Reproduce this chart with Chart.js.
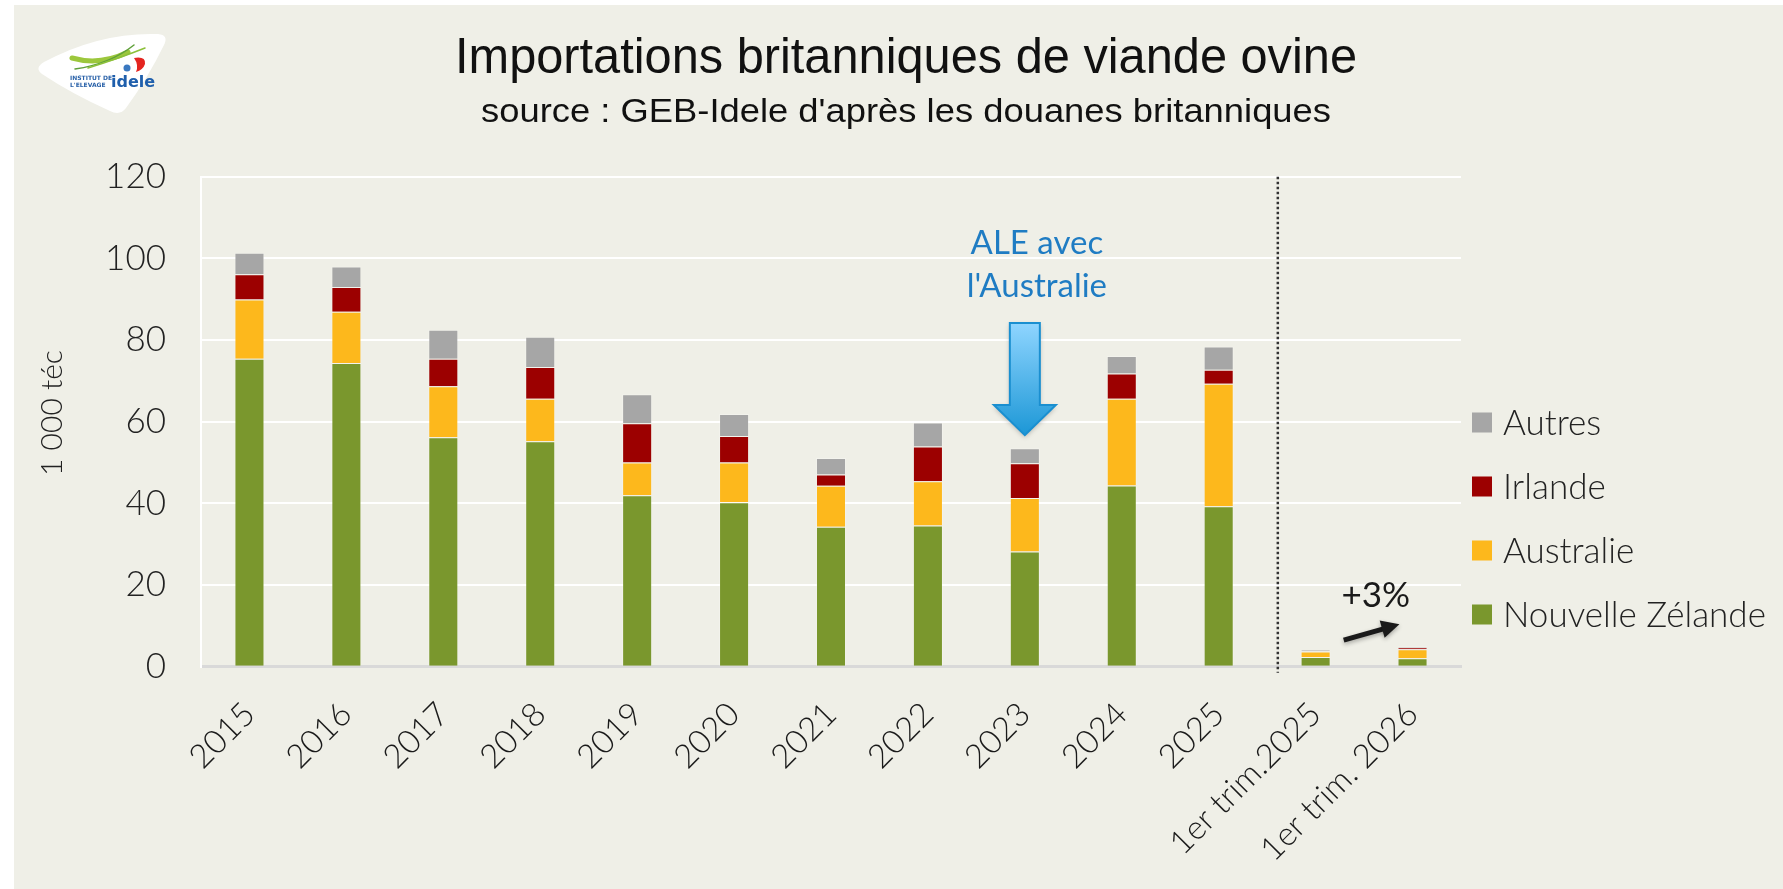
<!DOCTYPE html>
<html>
<head>
<meta charset="utf-8">
<script src="https://cdn.jsdelivr.net/npm/chart.js@4.4.1/dist/chart.umd.min.js"></script>
<style>
  html, body { margin: 0; padding: 0; background: #fff; overflow: hidden; }
  #chart { display: block; }
</style>
</head>
<body>
<canvas id="chart" width="1783" height="889"></canvas>
<script>
// data (1 000 téc)
const categories = ['2015', '2016', '2017', '2018', '2019', '2020', '2021', '2022', '2023', '2024', '2025', '1er trim.2025', '1er trim. 2026'];
const nouvelleZelande = [75.4, 74.4, 56.2, 55.2, 42.0, 40.3, 34.3, 34.6, 28.2, 44.4, 39.3, 2.4, 2.1];
const australie = [14.5, 12.5, 12.5, 10.4, 8.0, 9.7, 10.0, 10.8, 13.1, 21.2, 30.0, 1.3, 2.2];
const irlande = [6.2, 6.1, 6.7, 7.8, 9.6, 6.5, 2.8, 8.5, 8.5, 6.2, 3.4, 0.1, 0.4];
const autres = [5.3, 5.0, 7.1, 7.4, 7.1, 5.4, 4.0, 5.9, 3.7, 4.3, 5.7, 0.3, 0.3];

const seriesNames = ['Nouvelle Zélande', 'Australie', 'Irlande', 'Autres'];
const seriesColors = ['#7a972d', '#fdb81c', '#9c0000', '#a6a6a6'];
const yMin = 0, yMax = 120, yStep = 20;

const titleText = 'Importations britanniques de viande ovine';
const subtitleText = "source : GEB-Idele d'après les douanes britanniques";
const yTitle = '1 000 téc';
const noteLines = ['ALE avec', "l'Australie"];
const noteGrowth = '+3%';

const BG = '#efefe7';
const TXT = '#222';

// helper: draw text squeezed to a target width
function fitText(ctx, text, cx, y, targetW) {
  const w = ctx.measureText(text).width;
  ctx.save();
  ctx.translate(cx, y);
  ctx.scale(targetW / w, 1);
  ctx.textAlign = 'center';
  ctx.fillText(text, 0, 0);
  ctx.restore();
}

const backgroundPlugin = {
  id: 'background',
  beforeDraw(chart) {
    const ctx = chart.ctx;
    ctx.save();
    ctx.fillStyle = '#fff';
    ctx.fillRect(0, 0, chart.width, chart.height);
    ctx.fillStyle = BG;
    ctx.fillRect(14, 5, chart.width - 14, chart.height - 5);
    ctx.restore();
  }
};

function drawLogo(ctx) {
  ctx.save();
  // white rounded triangle
  ctx.fillStyle = '#fff';
  ctx.beginPath();
  ctx.moveTo(44, 62);
  ctx.quadraticCurveTo(100, 32, 158, 34);
  ctx.quadraticCurveTo(169, 35, 164, 45);
  ctx.quadraticCurveTo(148, 78, 126, 108);
  ctx.quadraticCurveTo(120, 116, 110, 111);
  ctx.quadraticCurveTo(72, 94, 42, 74);
  ctx.quadraticCurveTo(34, 68, 44, 62);
  ctx.closePath();
  ctx.fill();
  // green swooshes
  ctx.lineCap = 'round';
  ctx.strokeStyle = '#9cc73c';
  ctx.lineWidth = 5;
  ctx.beginPath();
  ctx.moveTo(72, 58);
  ctx.quadraticCurveTo(100, 66, 128, 52);
  ctx.stroke();
  ctx.strokeStyle = '#5fa03a';
  ctx.lineWidth = 1.5;
  ctx.beginPath();
  ctx.moveTo(75, 69);
  ctx.quadraticCurveTo(110, 64, 134, 45);
  ctx.stroke();
  ctx.strokeStyle = '#8cc03a';
  ctx.beginPath();
  ctx.moveTo(88, 68);
  ctx.quadraticCurveTo(120, 58, 145, 48);
  ctx.stroke();
  // red and blue marks
  ctx.fillStyle = '#e42520';
  ctx.beginPath();
  ctx.moveTo(134, 58);
  ctx.quadraticCurveTo(146, 56, 145, 64);
  ctx.quadraticCurveTo(143, 70, 136, 72);
  ctx.quadraticCurveTo(139, 65, 134, 58);
  ctx.fill();
  ctx.fillStyle = '#3a78c0';
  ctx.beginPath();
  ctx.arc(127, 68, 3.5, 0, Math.PI * 2);
  ctx.fill();
  // texts
  ctx.fillStyle = '#2a62a9';
  ctx.font = 'bold 6px "DejaVu Sans"';
  ctx.textBaseline = 'alphabetic';
  ctx.fillText('INSTITUT DE', 70, 80);
  ctx.fillText("L'ELEVAGE", 70, 86.5);
  ctx.fillStyle = '#1f5fac';
  ctx.font = 'bold 16px "DejaVu Sans"';
  ctx.fillText('idele', 111, 87);
  ctx.restore();
}

const decorPlugin = {
  id: 'decor',
  afterDraw(chart) {
    const ctx = chart.ctx;
    const xs = chart.scales.x;
    const ys = chart.scales.y;
    const step = xs.getPixelForValue(1) - xs.getPixelForValue(0);

    // titles
    ctx.save();
    ctx.fillStyle = '#111';
    ctx.textBaseline = 'alphabetic';
    ctx.font = '50px "Liberation Sans Narrow", "Liberation Sans", sans-serif';
    fitText(ctx, titleText, 906, 73, 902);
    ctx.font = '34px "Liberation Sans Narrow", "Liberation Sans", sans-serif';
    fitText(ctx, subtitleText, 906, 122, 850);
    ctx.restore();

    drawLogo(ctx);

    // y axis title
    ctx.save();
    ctx.translate(52, 413);
    ctx.rotate(-Math.PI / 2);
    ctx.fillStyle = TXT;
    ctx.font = '300 30px Lato';
    ctx.textAlign = 'center';
    ctx.textBaseline = 'middle';
    ctx.fillText(yTitle, 0, 0);
    ctx.restore();

    // dotted separator between annual and quarterly bars
    const sepX = xs.getPixelForValue(10) + step * 0.61;
    ctx.save();
    ctx.strokeStyle = '#333';
    ctx.lineWidth = 2.5;
    ctx.setLineDash([2.5, 2.5]);
    ctx.beginPath();
    ctx.moveTo(sepX, ys.getPixelForValue(yMax));
    ctx.lineTo(sepX, ys.getPixelForValue(yMin) + 6);
    ctx.stroke();
    ctx.restore();

    // blue arrow over 2023
    const ax = xs.getPixelForValue(8);
    const yTop = ys.getPixelForValue(84.2);
    const yHead = ys.getPixelForValue(64.1);
    const yTip = ys.getPixelForValue(56.7);
    ctx.save();
    const grad = ctx.createLinearGradient(0, yTop, 0, yTip);
    grad.addColorStop(0, '#8fd5ff');
    grad.addColorStop(1, '#1c97d6');
    ctx.shadowColor = 'rgba(0,0,0,0.25)';
    ctx.shadowBlur = 5;
    ctx.shadowOffsetY = 2;
    ctx.fillStyle = grad;
    ctx.strokeStyle = '#1a8fd0';
    ctx.lineWidth = 2;
    ctx.beginPath();
    ctx.moveTo(ax - 15, yTop);
    ctx.lineTo(ax + 15, yTop);
    ctx.lineTo(ax + 15, yHead);
    ctx.lineTo(ax + 31, yHead);
    ctx.lineTo(ax, yTip);
    ctx.lineTo(ax - 31, yHead);
    ctx.lineTo(ax - 15, yHead);
    ctx.closePath();
    ctx.fill();
    ctx.shadowColor = 'transparent';
    ctx.stroke();
    ctx.fillStyle = '#1f7cc3';
    ctx.font = '33px Lato';
    ctx.textAlign = 'center';
    ctx.textBaseline = 'alphabetic';
    ctx.fillText(noteLines[0], ax + 12, ys.getPixelForValue(101));
    ctx.fillText(noteLines[1], ax + 12, ys.getPixelForValue(90.6));
    ctx.restore();

    // +3% note with black arrow
    const q1 = xs.getPixelForValue(11);
    ctx.save();
    ctx.fillStyle = '#1a1a1a';
    ctx.font = '35px Lato';
    ctx.textAlign = 'center';
    ctx.textBaseline = 'alphabetic';
    ctx.fillText(noteGrowth, q1 + step * 0.62, ys.getPixelForValue(14.5));
    const x0 = q1 + step * 0.29, y0 = ys.getPixelForValue(6.5);
    const x1 = q1 + step * 0.865, y1 = ys.getPixelForValue(10.4);
    const ang = Math.atan2(y1 - y0, x1 - x0);
    ctx.shadowColor = 'rgba(0,0,0,0.3)';
    ctx.shadowBlur = 4;
    ctx.shadowOffsetY = 2;
    ctx.strokeStyle = '#1a1a1a';
    ctx.lineWidth = 5;
    ctx.beginPath();
    ctx.moveTo(x0, y0);
    ctx.lineTo(x1 - 12 * Math.cos(ang), y1 - 12 * Math.sin(ang));
    ctx.stroke();
    ctx.beginPath();
    ctx.moveTo(x1, y1);
    ctx.lineTo(x1 - 18 * Math.cos(ang) + 9 * Math.sin(ang), y1 - 18 * Math.sin(ang) - 9 * Math.cos(ang));
    ctx.lineTo(x1 - 18 * Math.cos(ang) - 9 * Math.sin(ang), y1 - 18 * Math.sin(ang) + 9 * Math.cos(ang));
    ctx.closePath();
    ctx.fillStyle = '#1a1a1a';
    ctx.fill();
    ctx.restore();

    // legend, top item is the top of the stack
    ctx.save();
    ctx.font = '300 35px Lato';
    ctx.textBaseline = 'middle';
    ctx.textAlign = 'left';
    for (let i = 0; i < seriesNames.length; i++) {
      const idx = seriesNames.length - 1 - i;
      const cy = 422.5 + i * 64;
      ctx.fillStyle = seriesColors[idx];
      ctx.fillRect(1472, cy - 10, 20, 20);
      ctx.fillStyle = TXT;
      ctx.fillText(seriesNames[idx], 1503, cy + 1);
    }
    ctx.restore();
  }
};

const seriesData = [nouvelleZelande, australie, irlande, autres];

new Chart(document.getElementById('chart'), {
  type: 'bar',
  data: {
    labels: categories,
    datasets: seriesNames.map((name, i) => ({
      label: name,
      data: seriesData[i],
      backgroundColor: seriesColors[i],
      borderColor: 'rgba(255,255,255,0.25)',
      borderWidth: 1,
      barPercentage: 0.31,
      categoryPercentage: 1
    }))
  },
  options: {
    responsive: false,
    animation: false,
    devicePixelRatio: 1,
    layout: { padding: { left: 0, right: 322, top: 176.7, bottom: 0 } },
    plugins: {
      legend: { display: false },
      title: { display: false },
      tooltip: { enabled: false }
    },
    scales: {
      x: {
        stacked: true,
        grid: { display: false },
        border: { display: true, color: '#d9d9d9', width: 3 },
        ticks: {
          minRotation: 45,
          maxRotation: 45,
          autoSkip: false,
          padding: 20,
          color: '#1a1a1a',
          font: { family: 'Lato', size: 33, weight: '300' }
        },
        afterFit(s) { s.height = 222.3; }
      },
      y: {
        stacked: true,
        min: yMin,
        max: yMax,
        grid: { color: '#ffffff', lineWidth: 2, drawTicks: false },
        border: { display: true, color: '#ffffff', width: 2 },
        ticks: {
          stepSize: yStep,
          padding: 35,
          color: '#222',
          font: { family: 'Lato', size: 35, weight: '300' }
        },
        afterFit(s) { s.width = 201; }
      }
    }
  },
  plugins: [backgroundPlugin, decorPlugin]
});
</script>
</body>
</html>
